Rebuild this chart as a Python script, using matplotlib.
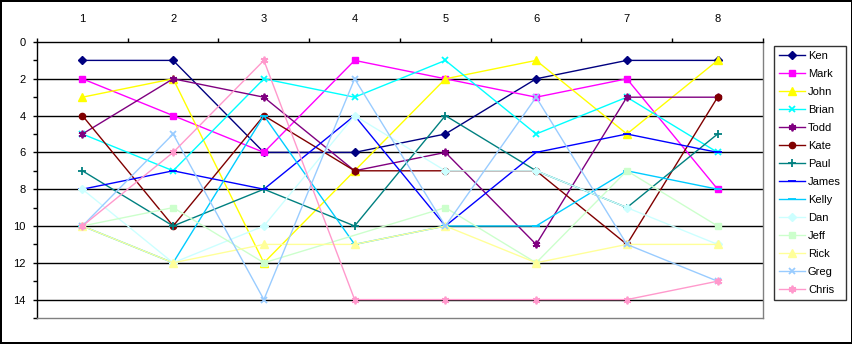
import numpy as np
import matplotlib
matplotlib.use("Agg")
import matplotlib.pyplot as plt

plt.rcParams['font.family'] = ['Liberation Sans', 'DejaVu Sans']

rounds = [1, 2, 3, 4, 5, 6, 7, 8]

ken = [1, 1, 6, 6, 5, 2, 1, 1]
mark = [2, 4, 6, 1, 2, 3, 2, 8]
john = [3, 2, 12, 7, 2, 1, 5, 1]
brian = [5, 7, 2, 3, 1, 5, 3, 6]
todd = [5, 2, 3, 7, 6, 11, 3, 3]
kate = [4, 10, 4, 7, 7, 7, 11, 3]
paul = [7, 10, 8, 10, 4, 7, 9, 5]
james = [8, 7, 8, 4, 10, 6, 5, 6]
kelly = [10, 12, 4, 11, 10, 10, 7, 8]
dan = [8, 12, 10, 4, 7, 7, 9, 11]
jeff = [10, 9, 12, np.nan, 9, 12, 7, 10]
rick = [10, 12, 11, 11, 10, 12, 11, 11]
greg = [10, 5, 14, 2, 10, 3, 11, 13]
chris = [10, 6, 1, 14, 14, 14, 14, 13]

names = ["Ken", "Mark", "John", "Brian", "Todd", "Kate", "Paul",
         "James", "Kelly", "Dan", "Jeff", "Rick", "Greg", "Chris"]
series = [ken, mark, john, brian, todd, kate, paul,
          james, kelly, dan, jeff, rick, greg, chris]

asterisk = (6, 2, 0)
# (color, marker, markersize)
styles = [
    ("#000080", "D", 4),
    ("#FF00FF", "s", 4.5),
    ("#FFFF00", "^", 5.5),
    ("#00FFFF", "x", 4),
    ("#800080", asterisk, 5.5),
    ("#800000", "o", 4.5),
    ("#008080", "+", 5.5),
    ("#0000FF", "_", 5.5),
    ("#00CCFF", "_", 5.5),
    ("#CCFFFF", "D", 4),
    ("#CCFFCC", "s", 4.5),
    ("#FFFF99", "^", 5.5),
    ("#99CCFF", "x", 4),
    ("#FF99CC", asterisk, 5.5),
]

fig = plt.figure(figsize=(8.53, 3.44), dpi=100, edgecolor="black", linewidth=1.5)
ax = fig.add_axes([37 / 853, 1 - 318 / 344, (763 - 37) / 853, (318 - 42) / 344])

for i, yvals in enumerate(series):
    col, mk, ms = styles[i]
    y = np.array(yvals, dtype=float)
    x = np.array(rounds)
    ok = ~np.isnan(y)  # Jeff has no value in round 4, line just joins 3 and 5
    mew = 1.3 if mk in ("x", "+", "_") or mk == asterisk else 1
    ax.plot(x[ok], y[ok], color=col, lw=1.0, marker=mk, markersize=ms,
            markerfacecolor=col, markeredgecolor=col, markeredgewidth=mew,
            label=names[i], zorder=3 + i)

ax.set_xlim(0.5, 8.5)
ax.set_ylim(15, 0)

# gridlines at even values
for g in range(2, 15, 2):
    ax.axhline(g, color="black", lw=1.0, zorder=1)

ax.xaxis.tick_top()
ax.set_xticks(rounds)
ax.set_xticklabels([str(r) for r in rounds], fontsize=8)
ax.set_xticks(np.arange(0.5, 9, 1), minor=True)
ax.tick_params(axis="x", which="major", length=0, pad=13)
ax.tick_params(axis="x", which="minor", length=3, direction="out", width=1)

ax.set_yticks(range(0, 15, 2))
ax.set_yticklabels([str(v) for v in range(0, 15, 2)], fontsize=8)
ax.set_yticks(range(1, 16, 2), minor=True)
ax.tick_params(axis="y", which="both", length=3, direction="out", width=1, pad=5)

ax.spines["left"].set_color("black")
ax.spines["top"].set_color("black")
ax.spines["right"].set_color("#808080")
ax.spines["bottom"].set_color("#808080")
for s in ax.spines.values():
    s.set_linewidth(1.0)

leg = fig.legend(loc="upper left", bbox_to_anchor=(774 / 853, 1 - 46 / 344),
                 fontsize=8, frameon=True, fancybox=False, edgecolor="black",
                 handlelength=2.3, handletextpad=0.3, labelspacing=0.72,
                 borderpad=0.45, borderaxespad=0)
leg.get_frame().set_linewidth(1.0)

fig.savefig("out.png", dpi=100, edgecolor=fig.get_edgecolor())
